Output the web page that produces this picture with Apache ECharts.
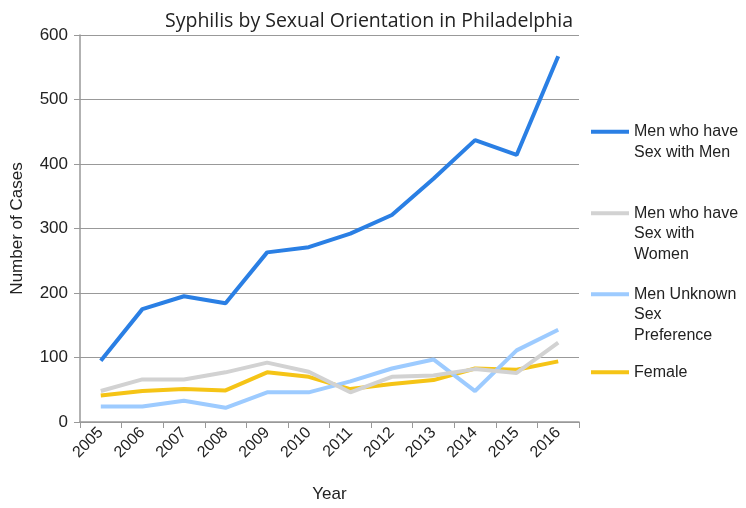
<!DOCTYPE html>
<html>
<head>
<meta charset="utf-8">
<script src="https://cdn.jsdelivr.net/npm/echarts@6/dist/echarts.min.js"></script>
<style>html,body{margin:0;padding:0;background:#fff}#c{width:746px;height:508px}</style>
</head>
<body>
<div id="c"></div>
<script>
var years = ['2005','2006','2007','2008','2009','2010','2011','2012','2013','2014','2015','2016'];
var msm = [95, 175, 195, 184, 263, 271, 292, 321, 377, 437, 414, 567];
var msw = [48, 66, 66, 77, 92, 78, 46, 70, 72, 82, 76, 123];
var unknown = [24, 24, 33, 22, 46, 46, 63, 83, 97, 48, 111, 143];
var female = [41, 48, 51, 49, 77, 70, 51, 59, 65, 83, 81, 94];
var seriesNames = ['Men who have Sex with Men', 'Men who have Sex with Women', 'Men Unknown Sex Preference', 'Female'];
var legendLabels = ['\nMen who have\nSex with Men', '\n\nMen who have\nSex with\nWomen', '\n\nMen Unknown\nSex\nPreference', 'Female'];
var colors = ['#2a7fe4', '#d2d2d2', '#9dcbff', '#f5c416'];
var yTicks = [0, 100, 200, 300, 400, 500, 600];

var chart = echarts.init(document.getElementById('c'), null, {renderer: 'canvas'});
var font = 'Arial, "Liberation Sans", sans-serif';
var data = [msm, msw, unknown, female];
var legendTops = [101, 162, 243, 362];
var legends = seriesNames.map(function (n, i) {
  return {
    data: [n], left: 591, top: legendTops[i], orient: 'vertical', padding: 0,
    icon: 'rect', itemWidth: 38, itemHeight: 4, selectedMode: false,
    formatter: function () { return legendLabels[i]; },
    textStyle: {fontFamily: font, fontSize: 16, color: '#222', lineHeight: 20.5}
  };
});
chart.setOption({
  animation: false,
  title: {
    text: 'Syphilis by Sexual Orientation in Philadelphia',
    left: 364, top: 6, textAlign: 'center',
    textStyle: {fontFamily: '"Open Sans", Lato, sans-serif', fontSize: 19.5, fontWeight: 'normal', color: '#222'}
  },
  legend: legends,
  grid: {left: 80, right: 167, top: 35, bottom: 83},
  xAxis: {
    type: 'category', data: years, boundaryGap: true,
    name: 'Year', nameLocation: 'middle', nameGap: 64,
    nameTextStyle: {fontFamily: font, fontSize: 17, color: '#222'},
    axisLine: {lineStyle: {color: '#999', width: 1.5}},
    axisTick: {show: true, length: 6, lineStyle: {color: '#999'}},
    axisLabel: {rotate: 45, fontFamily: font, fontSize: 16, color: '#222', margin: 8, interval: 0}
  },
  yAxis: {
    type: 'value', min: yTicks[0], max: yTicks[yTicks.length - 1], interval: 100,
    name: 'Number of Cases', nameLocation: 'middle', nameGap: 54,
    nameTextStyle: {fontFamily: font, fontSize: 17, color: '#222'},
    axisLine: {show: true, lineStyle: {color: '#999', width: 1.5}},
    axisTick: {show: true, length: 6, lineStyle: {color: '#999'}},
    axisLabel: {fontFamily: font, fontSize: 17, color: '#222', margin: 12},
    splitLine: {lineStyle: {color: '#999', width: 1}}
  },
  series: seriesNames.map(function (n, i) {
    return {
      name: n, type: 'line', data: data[i], symbol: 'none', z: 10 - i,
      lineStyle: {color: colors[i], width: 4}, itemStyle: {color: colors[i]}
    };
  })
});
</script>
</body>
</html>
